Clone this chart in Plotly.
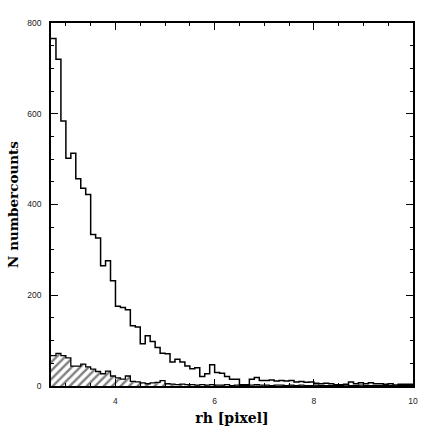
import plotly.graph_objects as go

# Histogram bins: start 2.7, width 0.1, up to 10.0
bin_start = 2.7
bin_width = 0.1

all_counts = [766, 720, 584, 502, 513, 457, 436, 422, 334, 326,
              265, 276, 232, 176, 173, 168, 133, 130, 93, 111,
              98, 85, 72, 71, 53, 59, 53, 44, 38, 40,
              21, 27, 47, 30, 28, 21, 15, 15, 3, 3,
              15, 19, 12, 12, 13, 11, 12, 11, 12, 9,
              10, 8, 9, 6, 5, 6, 5, 3, 3, 4,
              9, 5, 7, 5, 7, 5, 5, 4, 5, 2,
              4, 4, 4]

sub_counts = [67, 72, 67, 62, 44, 44, 48, 42, 37, 32,
              27, 33, 22, 18, 15, 22, 10, 9, 7, 5,
              7, 8, 12, 5, 4, 3, 4, 3, 3, 2,
              3, 2, 3, 2, 2, 3, 1, 2, 1, 1,
              2, 3, 2, 2, 1, 2, 2, 1, 2, 1,
              2, 1, 1, 2, 1, 1, 1, 1, 1, 2,
              1, 1, 2, 1, 1, 1, 1, 1, 1, 0,
              1, 1, 1]

x_ticks = [4, 6, 8, 10]
y_ticks = [0, 200, 400, 600, 800]


def step_xy(counts):
    n = len(counts)
    xs = [round(bin_start + i * bin_width, 4) for i in range(n + 1)]
    ys = list(counts) + [counts[-1]]
    return xs, ys


fig = go.Figure()

sx, sy = step_xy(sub_counts)
fig.add_trace(go.Scatter(
    x=sx, y=sy, mode="lines", line=dict(shape="hv", color="black", width=1.3),
    fill="tozeroy", fillcolor="white",
    fillpattern=dict(shape="/", fgcolor="black", bgcolor="white", size=6, solidity=0.4),
    showlegend=False, hoverinfo="skip"))

ax, ay = step_xy(all_counts)
fig.add_trace(go.Scatter(
    x=ax, y=ay, mode="lines", line=dict(shape="hv", color="black", width=1.5),
    showlegend=False, hoverinfo="skip"))

axis_common = dict(
    showline=True, linecolor="black", linewidth=1.5, mirror="ticks",
    ticks="inside", ticklen=7, tickwidth=1.2, tickcolor="black",
    showgrid=False, zeroline=False,
    tickfont=dict(family="Liberation Sans", size=8.5, color="#222"),
)

fig.update_xaxes(
    range=[2.7, 10], tickvals=x_ticks, ticktext=[str(v) for v in x_ticks],
    minor=dict(dtick=0.5, tick0=0, ticks="inside", ticklen=3.5, tickcolor="black", tickwidth=1),
    title=dict(text="rh [pixel]", font=dict(family="DejaVu Serif", size=14, color="black", weight="bold"), standoff=8),
    ticklabelstandoff=6,
    **axis_common)
fig.update_yaxes(
    range=[0, 800], tickvals=y_ticks, ticktext=[str(v) for v in y_ticks],
    minor=dict(dtick=50, tick0=0, ticks="inside", ticklen=3.5, tickcolor="black", tickwidth=1),
    title=dict(text="N numbercounts", font=dict(family="DejaVu Serif", size=13.5, color="black", weight="bold"), standoff=6),
    ticklabelstandoff=6,
    **axis_common)

fig.update_layout(
    width=436, height=436,
    margin=dict(l=47, r=23, t=23, b=47),
    paper_bgcolor="white", plot_bgcolor="white",
)

fig.write_html("out.html", config={"displayModeBar": False},
               post_script="document.body.style.margin='0';")
